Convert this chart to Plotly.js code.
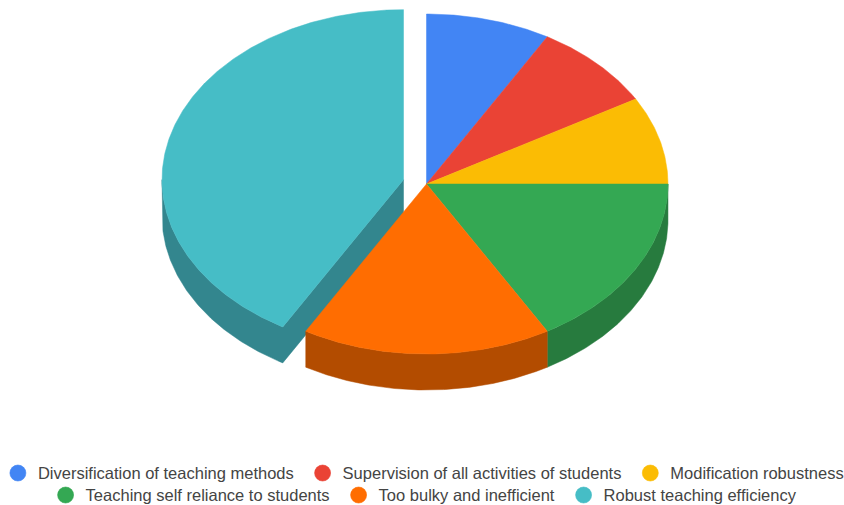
<!DOCTYPE html>
<html>
<head>
<meta charset="utf-8">
<script src="https://cdn.plot.ly/plotly-3.0.1.min.js"></script>
<style>html,body{margin:0;padding:0;background:#fff}#c{width:844px;height:505px}</style>
</head>
<body>
<div id="c"></div>
<script>
const categories = ["Diversification of teaching methods","Supervision of all activities of students","Modification robustness","Teaching self reliance to students","Too bulky and inefficient","Robust teaching efficiency"];
const values = [1,1,1,2,2,5];
const topColors = ["#4285F4","#EA4335","#FBBC04","#34A853","#FF6D01","#46BDC6"];
const sideColors = ["#3164B7","#AF3228","#BC8D03","#277B3E","#B34C00","#33868E"];
const legendX = [17.9,322.6,650.3,65.6,358.6,583.6];
const legendY = [473.3,473.3,473.3,495.3,495.3,495.3];

const W = 844, H = 505;
const CX = 426.5, CY = 184, RX = 241.5, RY = 170, DEPTH = 36, EXPLODE = 23.8;
const explodeIdx = 5;
const total = values.reduce((a,b)=>a+b,0);

function pt(deg, c){
  const r = deg*Math.PI/180;
  return [c[0]+RX*Math.sin(r), c[1]-RY*Math.cos(r)];
}
function arc(a0,a1,c){
  const out=[]; const n=Math.max(2,Math.ceil(Math.abs(a1-a0)*2));
  for(let i=0;i<=n;i++) out.push(pt(a0+(a1-a0)*i/n,c));
  return out;
}
function poly(points,color){
  return {type:"scatter",mode:"lines",x:points.map(p=>p[0]),y:points.map(p=>p[1]),fill:"toself",
    fillcolor:color,line:{width:0.5,color:color},hoverinfo:"skip",showlegend:false};
}
const slices=[]; let cum=0;
values.forEach((v,i)=>{
  const a0=cum/total*360, a1=(cum+v)/total*360; cum+=v;
  const mid=(a0+a1)/2*Math.PI/180;
  const off=i===explodeIdx?EXPLODE:0;
  const c=[CX+off*Math.sin(mid), CY-off*Math.cos(mid)*RY/RX];
  slices.push({i,a0,a1,c});
});
const sides=[], tops=[];
function wall(s){
  const a=Math.max(s.a0,90), b=Math.min(s.a1,270);
  if(b<=a) return null;
  const up=arc(a,b,s.c);
  const down=up.map(p=>[p[0],p[1]+DEPTH]).reverse();
  return {up,down};
}
// exploded slice: outer wall and its cut face form one outline, drawn behind the rest
const ex=slices[explodeIdx];
const exWall=wall(ex);
sides.push(poly([ex.c].concat(exWall.up,exWall.down,[[ex.c[0],ex.c[1]+DEPTH],ex.c]),sideColors[explodeIdx]));
slices.filter(s=>s.i!==explodeIdx).forEach(s=>{
  const w=wall(s);
  if(w) sides.push(poly(w.up.concat(w.down,[w.up[0]]),sideColors[s.i]));
});
tops.push(poly([ex.c].concat(arc(ex.a0,ex.a1,ex.c),[ex.c]),topColors[explodeIdx]));
slices.filter(s=>s.i!==explodeIdx).forEach(s=>tops.push(poly([s.c].concat(arc(s.a0,s.a1,s.c),[s.c]),topColors[s.i])));

const legendId=i=>i===0?"legend":"legend"+(i+1);
const legendTraces=categories.map((name,i)=>({type:"scatter",mode:"markers",name,x:[null],y:[null],
  marker:{color:topColors[i],size:16,symbol:"circle",line:{width:0.6,color:topColors[i]}},legend:legendId(i),hoverinfo:"skip"}));

const layout={width:W,height:H,margin:{l:0,r:0,t:0,b:0,autoexpand:false},paper_bgcolor:"#fff",plot_bgcolor:"#fff",
  xaxis:{range:[0,W],visible:false,fixedrange:true},
  yaxis:{range:[H,0],visible:false,fixedrange:true},
  showlegend:true,hovermode:false};
categories.forEach((_,i)=>{
  layout[legendId(i)]={orientation:"h",xref:"paper",yref:"paper",xanchor:"left",yanchor:"middle",
    x:(legendX[i]-20)/W,y:1-legendY[i]/H,bgcolor:"rgba(0,0,0,0)",itemwidth:30,
    font:{family:"Liberation Sans, Arial, sans-serif",size:16.5,color:"#444444"}};
});
Plotly.newPlot("c",sides.concat(tops,legendTraces),layout,{displayModeBar:false,staticPlot:true});
</script>
</body>
</html>
